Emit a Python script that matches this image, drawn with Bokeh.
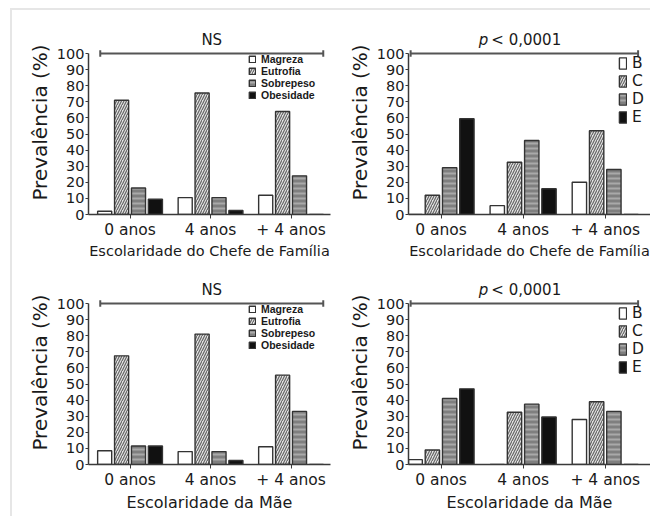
from bokeh.plotting import figure
from bokeh.layouts import gridplot
from bokeh.models import ColumnDataSource, FixedTicker, Range1d, Legend, LegendItem
from bokeh.core.properties import value
from bokeh.embed import file_html
from bokeh.resources import INLINE

# ---------------- data ----------------
groups = ["0 anos", "4 anos", "+ 4 anos"]
nut_labels = ["Magreza", "Eutrofia", "Sobrepeso", "Obesidade"]
cls_labels = ["B", "C", "D", "E"]

# Escolaridade do Chefe de Família - estado nutricional
chefe_magreza = [2, 10.5, 12]
chefe_eutrofia = [71, 75.5, 64]
chefe_sobrepeso = [16.5, 10.5, 24]
chefe_obesidade = [9.5, 2.5, 0]

# Escolaridade do Chefe de Família - classe econômica
chefe_B = [0, 5.5, 20]
chefe_C = [12, 32.5, 52]
chefe_D = [29, 46, 28]
chefe_E = [59.5, 16, 0]

# Escolaridade da Mãe - estado nutricional
mae_magreza = [8.5, 8, 11]
mae_eutrofia = [67.5, 81, 55.5]
mae_sobrepeso = [11.5, 8, 33]
mae_obesidade = [11.5, 2.5, 0]

# Escolaridade da Mãe - classe econômica
mae_B = [3, 0, 28]
mae_C = [9, 32.5, 39]
mae_D = [41, 37.5, 33]
mae_E = [47, 29.5, 0]

y_ticks = list(range(0, 101, 10))

# ---------------- styles ----------------
FONT = "DejaVu Sans"
TXT = "#1a1a1a"
AX = "#3a3a3a"
bar_styles = [
    dict(fill_color="white"),
    dict(fill_color="#e2e2e2", hatch_pattern="/", hatch_color="#666666",
         hatch_scale=5, hatch_weight=1.2),
    dict(fill_color="#7f7f7f", hatch_pattern="-", hatch_color="#a9a9a9",
         hatch_scale=5, hatch_weight=2),
    dict(fill_color="#111111"),
]
offsets = [-0.315, -0.105, 0.105, 0.315]
bar_w = 0.175


def make_panel(series, labels, xlabel, xlabel_size, width, height, border_top,
               border_right, x_start, x_end, legend_kind, stat):
    p = figure(width=width, height=height, output_backend="svg", toolbar_location=None,
               x_range=Range1d(x_start, x_end), y_range=Range1d(0, 114.3),
               min_border_left=76, min_border_right=border_right,
               min_border_top=border_top, min_border_bottom=52)
    p.outline_line_color = None
    p.grid.visible = False
    p.background_fill_color = "white"
    p.border_fill_color = "white"

    renderers = []
    for k, vals in enumerate(series):
        src = ColumnDataSource(dict(x=[i + offsets[k] for i in range(len(groups))],
                                    top=vals))
        r = p.vbar(x="x", top="top", width=bar_w, source=src,
                   line_color="#333333", line_width=1.4, **bar_styles[k])
        renderers.append(r)

    # significance bracket
    bx0, bx1 = -0.37, 2.40
    p.segment(x0=[bx0, bx0, bx1], y0=[100, 98, 98], x1=[bx1, bx0, bx1], y1=[100, 102, 102],
              line_color="#555555", line_width=2)
    cx = (bx0 + bx1) / 2
    if stat == "NS":
        p.text(x=[cx], y=[103], text=["NS"], text_align="center", text_baseline="bottom",
               text_font=value(FONT), text_font_size="15px", text_color=TXT)
    else:
        p.text(x=[cx], y=[103], text=["p"], text_align="right", text_baseline="bottom",
               x_offset=-36, text_font=value(FONT), text_font_size="15px",
               text_font_style="italic", text_color=TXT)
        p.text(x=[cx], y=[103], text=["< 0,0001"], text_align="left", text_baseline="bottom",
               x_offset=-33, text_font=value(FONT), text_font_size="15px", text_color=TXT)

    # axes
    xa = p.xaxis[0]
    xa.ticker = FixedTicker(ticks=[0, 1, 2])
    xa.major_label_overrides = {0: groups[0], 1: groups[1], 2: groups[2]}
    xa.major_tick_in = 0
    xa.major_tick_out = 4
    xa.minor_tick_line_color = None
    xa.axis_line_color = AX
    xa.axis_line_width = 1.5
    xa.major_tick_line_color = AX
    xa.major_label_text_font = FONT
    xa.major_label_text_font_size = "15.5px"
    xa.major_label_text_color = TXT
    xa.major_label_standoff = 2
    xa.axis_label = xlabel
    xa.axis_label_text_font = FONT
    xa.axis_label_text_font_size = xlabel_size
    xa.axis_label_text_font_style = "normal"
    xa.axis_label_text_color = TXT
    xa.axis_label_standoff = 1

    ya = p.yaxis[0]
    ya.ticker = FixedTicker(ticks=y_ticks)
    ya.bounds = (0, 100)
    ya.major_tick_in = 0
    ya.major_tick_out = 3
    ya.minor_tick_line_color = None
    ya.axis_line_color = AX
    ya.axis_line_width = 1.5
    ya.major_tick_line_color = AX
    ya.major_label_text_font = FONT
    ya.major_label_text_font_size = "14.5px"
    ya.major_label_text_color = TXT
    ya.major_label_standoff = 1
    ya.axis_label = "Prevalência (%)"
    ya.axis_label_text_font = FONT
    ya.axis_label_text_font_size = "20px"
    ya.axis_label_text_font_style = "normal"
    ya.axis_label_text_color = TXT
    ya.axis_label_standoff = 2

    items = [LegendItem(label=labels[k], renderers=[renderers[k]]) for k in range(4)]
    if legend_kind == "nut":
        lg = Legend(items=items, location=(160, 113), glyph_width=8, glyph_height=8,
                    label_text_font="Liberation Sans", label_text_font_size="10.5px",
                    label_text_font_style="bold", label_height=8, label_standoff=5,
                    spacing=0, padding=0, margin=0)
    else:
        lg = Legend(items=items, location=(210, 88), glyph_width=9, glyph_height=14,
                    label_text_font=FONT, label_text_font_size="15.5px",
                    label_height=14, label_standoff=5,
                    spacing=0, padding=0, margin=0)
    lg.border_line_color = None
    lg.background_fill_alpha = 0
    lg.label_text_color = TXT
    p.add_layout(lg)
    return p


p1 = make_panel([chefe_magreza, chefe_eutrofia, chefe_sobrepeso, chefe_obesidade],
                nut_labels, "Escolaridade do Chefe de Família", "14.5px", 320, 256, 20, 2,
                -0.516, 2.49, "nut", "NS")
p2 = make_panel([chefe_B, chefe_C, chefe_D, chefe_E],
                cls_labels, "Escolaridade do Chefe de Família", "14.5px", 318, 256, 20, 0,
                -0.396, 2.551, "cls", "p")
p3 = make_panel([mae_magreza, mae_eutrofia, mae_sobrepeso, mae_obesidade],
                nut_labels, "Escolaridade da Mãe", "16px", 320, 250, 14, 2,
                -0.516, 2.49, "nut", "NS")
p4 = make_panel([mae_B, mae_C, mae_D, mae_E],
                cls_labels, "Escolaridade da Mãe", "16px", 318, 250, 14, 0,
                -0.396, 2.551, "cls", "p")

grid = gridplot([[p1, p2], [p3, p4]], toolbar_location=None)
grid.styles = {"margin-left": "10px", "margin-top": "8px",
               "border-left": "2px solid #e6e6e6", "border-top": "2px solid #e6e6e6"}

open("out.html", "w").write(file_html(grid, INLINE))
